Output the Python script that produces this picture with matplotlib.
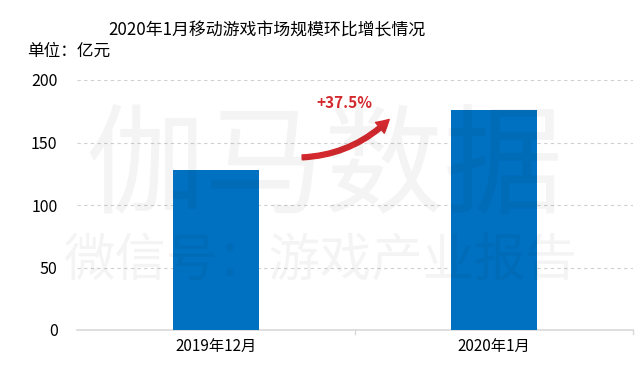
import matplotlib
matplotlib.use('Agg')
import matplotlib.pyplot as plt
from matplotlib.patches import FancyArrowPatch

plt.rcParams['font.family'] = ['Noto Sans CJK SC', 'DejaVu Sans']

# ── Data ──────────────────────────────────────────────────────
categories = ['2019年12月', '2020年1月']
values = [128, 176]
growth_label = '+37.5%'
yticks = [0, 50, 100, 150, 200]

C_BAR = '#0070C0'
C_RED = '#D42A2F'

fig = plt.figure(figsize=(6.4, 3.75), dpi=100)
ax = fig.add_axes([77/640, 1 - 330/375, 556/640, 250/375])

x = range(len(categories))
ax.bar(x, values, width=0.31, color=C_BAR, zorder=3)

ax.set_xlim(-0.5, len(categories) - 0.5)
ax.set_ylim(0, 200)
ax.set_yticks(yticks)
ax.set_xticks(list(x))
ax.set_xticklabels(categories, fontsize=11)
ax.tick_params(axis='y', length=0, labelsize=11.5, pad=14)
ax.tick_params(axis='x', length=0, pad=6)

# category boundary ticks
for xb in [0.5, 1.5]:
    ax.plot([xb, xb], [0, -3], color='#D9D9D9', lw=1, clip_on=False)

ax.grid(axis='y', ls=(0, (3, 3)), color='#D0D0D0', lw=0.8, zorder=0)
for s in ['top', 'right', 'left']:
    ax.spines[s].set_visible(False)
ax.spines['bottom'].set_color('#D9D9D9')
ax.spines['bottom'].set_linewidth(1.2)

# growth arrow
arr = FancyArrowPatch((0.30, 138), (0.63, 170),
                      connectionstyle='arc3,rad=0.2',
                      arrowstyle='simple,head_width=10,head_length=9,tail_width=3.5',
                      color=C_RED, zorder=4)
ax.add_patch(arr)
ax.text(0.46, 182, growth_label, color=C_RED, fontsize=11, fontweight='bold',
        ha='center', va='center', zorder=4)

# titles
fig.text(267/640, 1 - 30/375, '2020年1月移动游戏市场规模环比增长情况',
         ha='center', va='center', fontsize=12.2)
fig.text(27/640, 1 - 51/375, '单位：亿元', ha='left', va='center', fontsize=12)

# watermark
fig.text(325/640, 1 - 170/375, '伽马数据', ha='center', va='center',
         fontsize=86, color='black', alpha=0.045, zorder=10)
fig.text(320/640, 1 - 262/375, '微信号：游戏产业报告', ha='center', va='center',
         fontsize=37, color='black', alpha=0.045, zorder=10)

fig.savefig('out.png', dpi=100, facecolor='white')
